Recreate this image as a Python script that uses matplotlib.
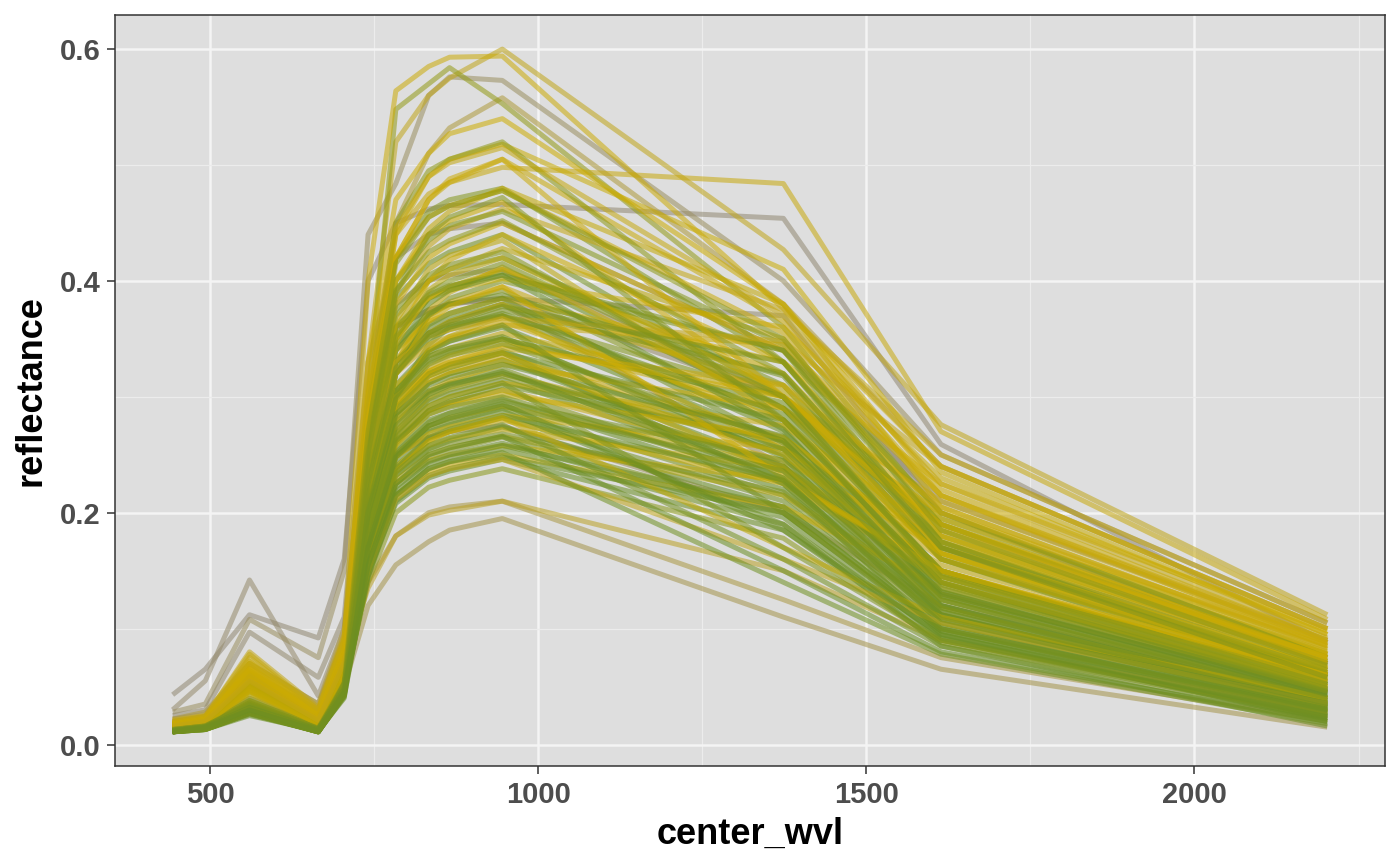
import matplotlib
matplotlib.use("Agg")
import matplotlib.pyplot as plt
from matplotlib.colors import LinearSegmentedColormap
from matplotlib.ticker import MultipleLocator, FormatStrFormatter

# Sentinel-2A band centres (nm)
center_wvl = [442.7, 492.4, 559.8, 664.6, 704.1, 740.5, 782.8, 832.8, 864.7, 945.1, 1373.5, 1613.7, 2202.4]

# spectra, one row per sample
grey_spectra = [
    [0.043, 0.065, 0.112, 0.092, 0.160, 0.400, 0.450, 0.462, 0.465, 0.466, 0.454, 0.259, 0.088],
    [0.030, 0.055, 0.142, 0.042, 0.100, 0.300, 0.360, 0.375, 0.380, 0.385, 0.300, 0.190, 0.070],
    [0.028, 0.035, 0.108, 0.075, 0.150, 0.440, 0.484, 0.560, 0.576, 0.573, 0.400, 0.250, 0.105],
    [0.025, 0.030, 0.097, 0.058, 0.110, 0.330, 0.420, 0.440, 0.445, 0.450, 0.340, 0.210, 0.090],
    [0.015, 0.018, 0.035, 0.020, 0.050, 0.120, 0.155, 0.175, 0.185, 0.195, 0.110, 0.065, 0.015],
    [0.020, 0.022, 0.060, 0.030, 0.080, 0.280, 0.380, 0.400, 0.405, 0.410, 0.300, 0.170, 0.060],
    [0.018, 0.022, 0.050, 0.028, 0.080, 0.250, 0.360, 0.375, 0.380, 0.385, 0.370, 0.200, 0.070],
    [0.022, 0.026, 0.070, 0.035, 0.090, 0.200, 0.250, 0.265, 0.270, 0.275, 0.200, 0.120, 0.040],
    [0.016, 0.020, 0.040, 0.022, 0.060, 0.140, 0.180, 0.200, 0.205, 0.210, 0.125, 0.075, 0.020],
    [0.022, 0.028, 0.070, 0.035, 0.100, 0.300, 0.450, 0.510, 0.532, 0.558, 0.380, 0.240, 0.100],
    [0.020, 0.024, 0.062, 0.030, 0.085, 0.220, 0.320, 0.355, 0.365, 0.380, 0.240, 0.130, 0.045],
]
grey_tone = [0.02, 0.05, 0.10, 0.04, 0.18, 0.08, 0.03, 0.12, 0.22, 0.25, 0.15]

yellow_spectra = [
    [0.020, 0.024, 0.060, 0.025, 0.075, 0.330, 0.520, 0.560, 0.575, 0.600, 0.427, 0.276, 0.112],
    [0.018, 0.022, 0.055, 0.022, 0.070, 0.280, 0.440, 0.475, 0.485, 0.498, 0.484, 0.270, 0.108],
    [0.021, 0.025, 0.066, 0.030, 0.090, 0.400, 0.564, 0.585, 0.593, 0.594, 0.376, 0.240, 0.100],
    [0.018, 0.022, 0.058, 0.022, 0.080, 0.330, 0.470, 0.510, 0.527, 0.540, 0.380, 0.220, 0.090],
    [0.016, 0.020, 0.052, 0.020, 0.075, 0.300, 0.440, 0.490, 0.505, 0.518, 0.410, 0.235, 0.095],
    [0.017, 0.021, 0.062, 0.024, 0.080, 0.290, 0.420, 0.470, 0.485, 0.505, 0.365, 0.215, 0.085],
    [0.015, 0.019, 0.048, 0.019, 0.070, 0.270, 0.400, 0.445, 0.460, 0.480, 0.380, 0.205, 0.082],
    [0.019, 0.023, 0.070, 0.028, 0.085, 0.260, 0.380, 0.420, 0.432, 0.450, 0.340, 0.200, 0.078],
    [0.014, 0.018, 0.045, 0.018, 0.065, 0.250, 0.360, 0.400, 0.410, 0.428, 0.350, 0.190, 0.075],
    [0.016, 0.020, 0.055, 0.021, 0.072, 0.240, 0.350, 0.385, 0.395, 0.410, 0.320, 0.180, 0.070],
    [0.018, 0.022, 0.075, 0.030, 0.090, 0.230, 0.330, 0.370, 0.382, 0.395, 0.300, 0.210, 0.088],
    [0.015, 0.019, 0.050, 0.020, 0.068, 0.220, 0.320, 0.355, 0.365, 0.380, 0.310, 0.175, 0.068],
    [0.017, 0.021, 0.060, 0.024, 0.078, 0.215, 0.305, 0.340, 0.350, 0.365, 0.280, 0.165, 0.062],
    [0.014, 0.018, 0.046, 0.018, 0.062, 0.205, 0.295, 0.325, 0.335, 0.350, 0.290, 0.190, 0.080],
    [0.016, 0.020, 0.058, 0.022, 0.074, 0.200, 0.285, 0.315, 0.322, 0.335, 0.265, 0.160, 0.060],
    [0.015, 0.019, 0.052, 0.020, 0.070, 0.190, 0.270, 0.300, 0.308, 0.320, 0.260, 0.150, 0.056],
    [0.018, 0.022, 0.068, 0.026, 0.082, 0.185, 0.260, 0.288, 0.295, 0.306, 0.245, 0.170, 0.072],
    [0.013, 0.017, 0.044, 0.017, 0.060, 0.175, 0.250, 0.275, 0.282, 0.292, 0.240, 0.140, 0.050],
    [0.016, 0.020, 0.056, 0.021, 0.072, 0.170, 0.240, 0.262, 0.270, 0.280, 0.225, 0.145, 0.058],
    [0.015, 0.019, 0.050, 0.019, 0.066, 0.160, 0.228, 0.250, 0.256, 0.266, 0.215, 0.130, 0.048],
    [0.017, 0.021, 0.064, 0.025, 0.078, 0.150, 0.215, 0.236, 0.242, 0.250, 0.205, 0.135, 0.052],
    [0.016, 0.020, 0.058, 0.022, 0.070, 0.135, 0.180, 0.198, 0.202, 0.210, 0.150, 0.090, 0.028],
    [0.019, 0.024, 0.080, 0.032, 0.095, 0.270, 0.390, 0.430, 0.445, 0.462, 0.375, 0.250, 0.105],
    [0.017, 0.021, 0.062, 0.024, 0.080, 0.250, 0.340, 0.365, 0.372, 0.385, 0.330, 0.225, 0.098],
    [0.016, 0.020, 0.054, 0.021, 0.074, 0.230, 0.310, 0.335, 0.342, 0.355, 0.300, 0.195, 0.085],
    [0.015, 0.019, 0.050, 0.020, 0.070, 0.180, 0.265, 0.292, 0.300, 0.312, 0.275, 0.180, 0.078],
    [0.017, 0.021, 0.060, 0.023, 0.078, 0.260, 0.360, 0.385, 0.392, 0.402, 0.360, 0.230, 0.095],
    [0.015, 0.019, 0.052, 0.020, 0.068, 0.210, 0.330, 0.375, 0.390, 0.412, 0.290, 0.165, 0.062],
    [0.016, 0.020, 0.057, 0.022, 0.072, 0.230, 0.350, 0.400, 0.418, 0.440, 0.330, 0.185, 0.072],
    [0.018, 0.022, 0.066, 0.026, 0.084, 0.240, 0.320, 0.345, 0.352, 0.362, 0.345, 0.215, 0.090],
    [0.014, 0.018, 0.047, 0.018, 0.064, 0.200, 0.300, 0.340, 0.352, 0.370, 0.255, 0.150, 0.055],
    [0.016, 0.020, 0.055, 0.021, 0.071, 0.195, 0.275, 0.305, 0.314, 0.328, 0.290, 0.200, 0.086],
    [0.017, 0.021, 0.061, 0.024, 0.079, 0.185, 0.248, 0.268, 0.274, 0.284, 0.255, 0.175, 0.076],
    [0.015, 0.019, 0.051, 0.020, 0.068, 0.170, 0.238, 0.258, 0.264, 0.272, 0.238, 0.155, 0.064],
    [0.018, 0.023, 0.072, 0.028, 0.088, 0.300, 0.420, 0.455, 0.465, 0.478, 0.355, 0.215, 0.088],
    [0.016, 0.020, 0.056, 0.022, 0.074, 0.280, 0.400, 0.440, 0.452, 0.468, 0.300, 0.170, 0.066],
    [0.015, 0.019, 0.049, 0.019, 0.066, 0.225, 0.345, 0.392, 0.405, 0.420, 0.305, 0.160, 0.058],
    [0.017, 0.021, 0.063, 0.024, 0.080, 0.220, 0.300, 0.322, 0.330, 0.342, 0.310, 0.205, 0.083],
    [0.016, 0.020, 0.058, 0.022, 0.073, 0.205, 0.290, 0.318, 0.326, 0.338, 0.235, 0.140, 0.050],
    [0.014, 0.018, 0.046, 0.018, 0.063, 0.180, 0.258, 0.285, 0.292, 0.302, 0.265, 0.165, 0.066],
    [0.019, 0.024, 0.078, 0.030, 0.092, 0.310, 0.445, 0.490, 0.502, 0.515, 0.370, 0.225, 0.092],
    [0.015, 0.019, 0.050, 0.019, 0.067, 0.165, 0.225, 0.245, 0.250, 0.258, 0.228, 0.150, 0.060],
    [0.016, 0.020, 0.054, 0.021, 0.070, 0.245, 0.365, 0.410, 0.422, 0.435, 0.280, 0.150, 0.055],
    [0.017, 0.021, 0.059, 0.023, 0.076, 0.250, 0.330, 0.352, 0.358, 0.368, 0.348, 0.240, 0.100],
    [0.015, 0.019, 0.053, 0.020, 0.069, 0.190, 0.280, 0.312, 0.320, 0.332, 0.250, 0.145, 0.054],
    [0.018, 0.022, 0.065, 0.025, 0.082, 0.215, 0.295, 0.322, 0.330, 0.345, 0.300, 0.190, 0.075],
    [0.016, 0.020, 0.056, 0.021, 0.072, 0.210, 0.320, 0.365, 0.378, 0.395, 0.230, 0.150, 0.060],
    [0.015, 0.019, 0.051, 0.020, 0.068, 0.160, 0.235, 0.262, 0.270, 0.282, 0.170, 0.110, 0.040],
    [0.017, 0.021, 0.060, 0.023, 0.077, 0.280, 0.420, 0.470, 0.488, 0.505, 0.300, 0.185, 0.075],
    [0.016, 0.020, 0.055, 0.021, 0.071, 0.150, 0.212, 0.232, 0.238, 0.246, 0.160, 0.105, 0.035],
]
yellow_tone = [0.40, 0.45, 0.48, 0.50, 0.52, 0.47, 0.55, 0.50, 0.58, 0.52, 0.45, 0.60, 0.50,
               0.55, 0.48, 0.62, 0.46, 0.60, 0.52, 0.64, 0.50, 0.35, 0.42, 0.50, 0.56, 0.53,
               0.52, 0.55, 0.50, 0.45, 0.58, 0.48, 0.53, 0.56, 0.47, 0.50, 0.60, 0.46, 0.57,
               0.52, 0.44, 0.55, 0.58, 0.42, 0.62, 0.50, 0.50, 0.56, 0.48, 0.40]

green_spectra = [
    [0.015, 0.018, 0.040, 0.015, 0.060, 0.300, 0.548, 0.570, 0.584, 0.553, 0.360, 0.195, 0.078],
    [0.013, 0.016, 0.036, 0.014, 0.055, 0.280, 0.420, 0.460, 0.470, 0.480, 0.330, 0.180, 0.070],
    [0.012, 0.015, 0.032, 0.013, 0.050, 0.260, 0.385, 0.415, 0.425, 0.440, 0.300, 0.160, 0.060],
    [0.013, 0.016, 0.035, 0.014, 0.052, 0.250, 0.370, 0.400, 0.410, 0.420, 0.310, 0.165, 0.058],
    [0.012, 0.014, 0.030, 0.012, 0.048, 0.240, 0.350, 0.385, 0.395, 0.408, 0.290, 0.150, 0.052],
    [0.014, 0.017, 0.038, 0.015, 0.056, 0.235, 0.340, 0.370, 0.380, 0.392, 0.280, 0.145, 0.050],
    [0.012, 0.015, 0.033, 0.013, 0.050, 0.225, 0.330, 0.360, 0.368, 0.380, 0.270, 0.140, 0.046],
    [0.011, 0.014, 0.030, 0.012, 0.046, 0.220, 0.320, 0.350, 0.358, 0.370, 0.275, 0.138, 0.044],
    [0.013, 0.016, 0.036, 0.014, 0.054, 0.215, 0.310, 0.340, 0.348, 0.360, 0.262, 0.132, 0.042],
    [0.012, 0.015, 0.032, 0.013, 0.050, 0.210, 0.300, 0.330, 0.338, 0.350, 0.255, 0.128, 0.040],
    [0.011, 0.014, 0.029, 0.012, 0.045, 0.205, 0.292, 0.320, 0.328, 0.340, 0.250, 0.125, 0.038],
    [0.013, 0.016, 0.035, 0.014, 0.052, 0.200, 0.285, 0.312, 0.320, 0.332, 0.240, 0.120, 0.036],
    [0.012, 0.015, 0.031, 0.013, 0.048, 0.195, 0.278, 0.304, 0.312, 0.324, 0.236, 0.118, 0.035],
    [0.011, 0.014, 0.028, 0.011, 0.044, 0.190, 0.270, 0.296, 0.303, 0.315, 0.230, 0.115, 0.034],
    [0.013, 0.016, 0.034, 0.014, 0.050, 0.185, 0.262, 0.288, 0.295, 0.306, 0.225, 0.112, 0.032],
    [0.012, 0.015, 0.030, 0.012, 0.047, 0.180, 0.255, 0.280, 0.286, 0.298, 0.220, 0.110, 0.031],
    [0.011, 0.013, 0.027, 0.011, 0.043, 0.175, 0.248, 0.272, 0.278, 0.290, 0.215, 0.105, 0.029],
    [0.012, 0.015, 0.032, 0.013, 0.048, 0.170, 0.240, 0.264, 0.270, 0.282, 0.210, 0.102, 0.028],
    [0.011, 0.014, 0.029, 0.012, 0.045, 0.165, 0.232, 0.255, 0.262, 0.274, 0.205, 0.100, 0.027],
    [0.012, 0.015, 0.031, 0.013, 0.047, 0.160, 0.225, 0.248, 0.254, 0.265, 0.200, 0.098, 0.026],
    [0.011, 0.013, 0.027, 0.011, 0.042, 0.152, 0.215, 0.238, 0.244, 0.255, 0.190, 0.094, 0.025],
    [0.012, 0.015, 0.030, 0.012, 0.046, 0.148, 0.208, 0.230, 0.236, 0.246, 0.185, 0.090, 0.024],
    [0.013, 0.016, 0.034, 0.014, 0.050, 0.140, 0.200, 0.222, 0.228, 0.238, 0.178, 0.088, 0.023],
    [0.011, 0.014, 0.028, 0.011, 0.044, 0.190, 0.300, 0.345, 0.360, 0.375, 0.320, 0.170, 0.062],
    [0.012, 0.015, 0.031, 0.012, 0.047, 0.200, 0.320, 0.370, 0.385, 0.400, 0.340, 0.190, 0.072],
    [0.013, 0.016, 0.035, 0.014, 0.052, 0.270, 0.400, 0.435, 0.448, 0.460, 0.345, 0.200, 0.075],
    [0.012, 0.015, 0.032, 0.013, 0.049, 0.230, 0.330, 0.362, 0.372, 0.385, 0.260, 0.120, 0.038],
    [0.011, 0.014, 0.030, 0.012, 0.046, 0.215, 0.305, 0.335, 0.342, 0.352, 0.248, 0.112, 0.033],
    [0.014, 0.017, 0.038, 0.015, 0.058, 0.290, 0.450, 0.495, 0.505, 0.520, 0.330, 0.175, 0.065],
    [0.012, 0.015, 0.033, 0.013, 0.049, 0.175, 0.260, 0.288, 0.296, 0.310, 0.262, 0.130, 0.045],
    [0.012, 0.013, 0.025, 0.012, 0.040, 0.170, 0.245, 0.270, 0.276, 0.288, 0.190, 0.085, 0.016],
    [0.011, 0.013, 0.027, 0.011, 0.043, 0.200, 0.290, 0.318, 0.325, 0.338, 0.225, 0.095, 0.020],
    [0.012, 0.015, 0.031, 0.012, 0.047, 0.250, 0.360, 0.388, 0.396, 0.405, 0.340, 0.175, 0.060],
    [0.013, 0.016, 0.034, 0.013, 0.051, 0.240, 0.345, 0.372, 0.380, 0.388, 0.318, 0.160, 0.054],
    [0.012, 0.014, 0.030, 0.012, 0.046, 0.220, 0.340, 0.380, 0.392, 0.405, 0.272, 0.128, 0.040],
    [0.011, 0.014, 0.028, 0.011, 0.044, 0.230, 0.330, 0.355, 0.362, 0.370, 0.300, 0.148, 0.048],
    [0.013, 0.016, 0.035, 0.014, 0.052, 0.210, 0.305, 0.332, 0.340, 0.350, 0.295, 0.150, 0.052],
    [0.012, 0.015, 0.032, 0.013, 0.048, 0.195, 0.290, 0.320, 0.328, 0.338, 0.280, 0.140, 0.047],
    [0.011, 0.013, 0.027, 0.011, 0.042, 0.200, 0.282, 0.305, 0.311, 0.320, 0.255, 0.120, 0.036],
    [0.012, 0.015, 0.031, 0.012, 0.047, 0.180, 0.268, 0.298, 0.306, 0.318, 0.240, 0.118, 0.037],
    [0.013, 0.016, 0.033, 0.013, 0.050, 0.175, 0.252, 0.278, 0.286, 0.296, 0.245, 0.125, 0.041],
    [0.011, 0.014, 0.029, 0.012, 0.045, 0.160, 0.238, 0.265, 0.272, 0.284, 0.228, 0.112, 0.034],
    [0.012, 0.015, 0.030, 0.012, 0.046, 0.165, 0.232, 0.254, 0.260, 0.268, 0.218, 0.108, 0.033],
    [0.011, 0.013, 0.026, 0.011, 0.041, 0.150, 0.218, 0.242, 0.248, 0.258, 0.205, 0.100, 0.030],
    [0.012, 0.015, 0.031, 0.012, 0.047, 0.145, 0.210, 0.232, 0.238, 0.248, 0.200, 0.098, 0.029],
    [0.013, 0.016, 0.033, 0.013, 0.049, 0.255, 0.375, 0.405, 0.414, 0.425, 0.290, 0.150, 0.052],
    [0.012, 0.014, 0.030, 0.012, 0.046, 0.260, 0.392, 0.425, 0.435, 0.452, 0.320, 0.170, 0.064],
    [0.011, 0.014, 0.029, 0.012, 0.045, 0.215, 0.320, 0.352, 0.360, 0.372, 0.285, 0.135, 0.045],
    [0.012, 0.015, 0.032, 0.013, 0.048, 0.185, 0.275, 0.302, 0.310, 0.322, 0.230, 0.105, 0.030],
    [0.011, 0.013, 0.027, 0.011, 0.043, 0.190, 0.262, 0.285, 0.291, 0.300, 0.228, 0.108, 0.032],
    [0.013, 0.016, 0.034, 0.014, 0.051, 0.205, 0.298, 0.328, 0.336, 0.346, 0.262, 0.125, 0.040],
    [0.012, 0.015, 0.031, 0.013, 0.048, 0.155, 0.222, 0.244, 0.250, 0.260, 0.196, 0.092, 0.022],
    [0.012, 0.014, 0.029, 0.012, 0.045, 0.235, 0.352, 0.390, 0.400, 0.415, 0.300, 0.145, 0.048],
    [0.013, 0.016, 0.036, 0.014, 0.053, 0.270, 0.415, 0.455, 0.465, 0.478, 0.350, 0.185, 0.068],
    [0.011, 0.014, 0.028, 0.011, 0.044, 0.170, 0.250, 0.275, 0.281, 0.292, 0.236, 0.115, 0.035],
    [0.012, 0.015, 0.030, 0.012, 0.046, 0.200, 0.285, 0.310, 0.317, 0.328, 0.266, 0.132, 0.043],
    [0.012, 0.015, 0.033, 0.013, 0.049, 0.225, 0.325, 0.355, 0.364, 0.378, 0.330, 0.170, 0.058],
    [0.012, 0.015, 0.031, 0.012, 0.047, 0.165, 0.235, 0.258, 0.265, 0.276, 0.160, 0.085, 0.022],
    [0.011, 0.014, 0.029, 0.012, 0.045, 0.155, 0.225, 0.250, 0.256, 0.266, 0.150, 0.080, 0.020],
    [0.013, 0.016, 0.034, 0.013, 0.050, 0.180, 0.265, 0.292, 0.300, 0.312, 0.170, 0.090, 0.025],
    [0.012, 0.015, 0.032, 0.013, 0.048, 0.145, 0.215, 0.238, 0.244, 0.252, 0.140, 0.078, 0.018],
    [0.012, 0.015, 0.031, 0.012, 0.047, 0.250, 0.390, 0.440, 0.455, 0.472, 0.280, 0.140, 0.046],
    [0.011, 0.014, 0.029, 0.012, 0.045, 0.200, 0.300, 0.338, 0.348, 0.362, 0.200, 0.100, 0.028],
    [0.012, 0.015, 0.030, 0.012, 0.046, 0.170, 0.248, 0.275, 0.282, 0.294, 0.185, 0.095, 0.024],
]
green_tone = [0.80, 0.88, 0.95, 0.90, 1.00, 0.85, 0.97, 0.92, 1.00, 0.88, 0.95, 1.00, 0.90,
              0.98, 0.86, 1.00, 0.93, 0.96, 1.00, 0.90, 0.97, 1.00, 0.84, 0.92, 0.89, 0.87,
              0.96, 1.00, 0.82, 0.94, 1.00, 0.98,
              0.90, 0.96, 1.00, 0.88, 0.93, 0.98, 1.00, 0.86, 0.94, 1.00, 0.91, 0.97, 1.00,
              0.85, 0.82, 0.95, 1.00, 0.92, 0.89, 1.00, 0.87, 0.83, 0.96, 0.99, 0.91,
              0.95, 1.00, 0.90, 0.97, 0.86, 0.93, 1.00]

cmap = LinearSegmentedColormap.from_list("veg", ["#8e8776", "#cdac00", "#6b8e23"])

plt.rcParams["font.family"] = ["Liberation Sans", "DejaVu Sans"]
plt.rcParams["font.weight"] = "bold"

fig = plt.figure(figsize=(14, 8.65), dpi=100)
ax = fig.add_axes([0.0821, 0.1145, 0.9072, 0.8682])
ax.set_facecolor("#dedede")

def draw(spec, t):
    ax.plot(center_wvl, spec, color=cmap(t), alpha=0.55, lw=3.6,
            solid_joinstyle="round", solid_capstyle="butt")

for spec, t in zip(grey_spectra, grey_tone):
    draw(spec, t)
# yellow and green samples are mixed together
n = max(len(yellow_spectra), len(green_spectra))
for i in range(n):
    if i < len(yellow_spectra):
        draw(yellow_spectra[i], yellow_tone[i])
    if i < len(green_spectra):
        draw(green_spectra[i], green_tone[i])

ax.margins(x=0.05, y=0.05)

ax.xaxis.set_major_locator(MultipleLocator(500))
ax.xaxis.set_minor_locator(MultipleLocator(250))
ax.yaxis.set_major_locator(MultipleLocator(0.2))
ax.yaxis.set_minor_locator(MultipleLocator(0.1))
ax.yaxis.set_major_formatter(FormatStrFormatter("%.1f"))
ax.grid(which="major", color="#f4f4f4", lw=1.8)
ax.grid(which="minor", color="#ececec", lw=0.9)
ax.set_axisbelow(True)

for s in ax.spines.values():
    s.set_color("#333333")
    s.set_linewidth(1.1)

ax.tick_params(which="major", length=5.5, width=1.1, color="#333333", pad=5,
               labelsize=21, labelcolor="#4d4d4d")
ax.tick_params(which="minor", length=0)

ax.set_xlabel("center_wvl", fontsize=26, fontweight="bold", color="black", labelpad=6)
ax.set_ylabel("reflectance", fontsize=26, fontweight="bold", color="black", labelpad=8)

fig.savefig("out.png", dpi=100)
